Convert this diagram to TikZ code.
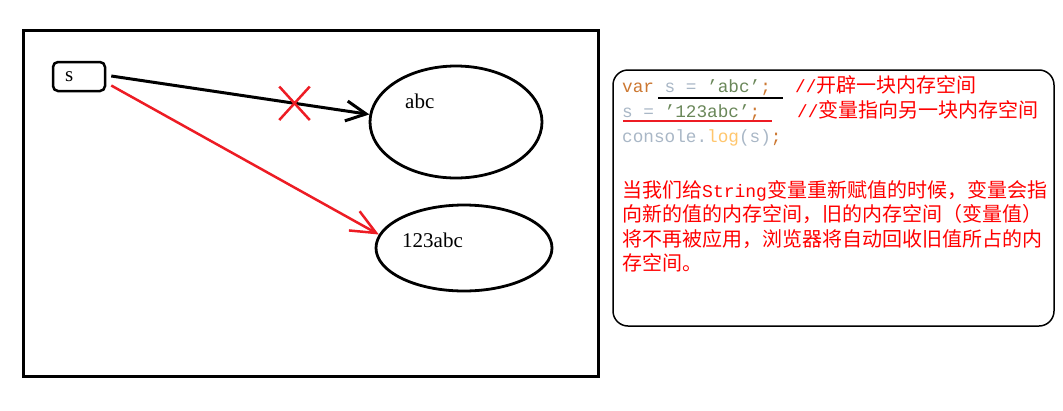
\documentclass[tikz,border=0pt]{standalone}
\usepackage{fontspec}
\setmainfont{Liberation Serif}
\newfontfamily\codefont{Liberation Mono}
\newfontfamily\cjkfont{Noto Sans CJK SC}
\usepackage{xcolor}
\definecolor{paintred}{HTML}{ED1C24}
\definecolor{notered}{HTML}{FF0000}
\definecolor{kwcolor}{HTML}{CC7832}
\definecolor{idcolor}{HTML}{A9B7C6}
\definecolor{strcolor}{HTML}{6A8759}
\definecolor{fncolor}{HTML}{FFC66D}
\usetikzlibrary{shapes.geometric, shapes.misc, arrows.meta, positioning, calc}

\begin{document}
\begin{tikzpicture}[
        x=1pt, y=-1pt,
        var_box/.style={
            rectangle,
            rounded corners=5pt,
            draw=black,
            line width=2.5pt,
            minimum width=52pt,
            minimum height=29pt,
            text width=28pt,
            inner xsep=12pt,
            align=left,
            font=\fontsize{21}{22}\selectfont
        },
        heap_ell/.style={
            ellipse,
            draw=black,
            line width=2.8pt,
            inner sep=0pt
        },
        val_text/.style={
            anchor=base west,
            inner sep=0pt,
            font=\fontsize{21}{22}\selectfont
        },
        code_line/.style={
            anchor=base west,
            inner sep=0pt,
            font=\codefont\fontsize{17.7}{20}\selectfont
        },
        note_text/.style={
            anchor=base west,
            inner sep=0pt,
            text=notered,
            font=\cjkfont\fontsize{20}{24.5}\selectfont
        },
        ref_arrow/.style={
            line width=#1,
            -{Straight Barb[length=20pt, width=20pt]}
        },
        x_mark/.style={
            cross out,
            draw=paintred,
            line width=2.5pt,
            minimum width=28pt,
            minimum height=31pt,
            inner sep=0pt
        }
    ]
    \useasboundingbox (0,0) rectangle (1063,410);

    % Memory sketch
    \draw[line width=3pt] (23,30) rectangle (598,376);
    \node[var_box] (var_s) at (79,76.5) {s};
    \node[heap_ell, minimum width=172pt, minimum height=112pt] (ell_abc) at (456,122) {};
    \node[heap_ell, minimum width=176pt, minimum height=86pt] (ell_new) at (464,248) {};
    \node[val_text] (t_abc) at (405,108) {abc};
    \node[val_text] (t_new) at (402,247) {123abc};

    % old and new references
    \draw[ref_arrow=3pt] ($(var_s.east)+(5,-0.5)$) -- node[x_mark, pos=0.71] (x_old) {} (ell_abc.175);
    \draw[ref_arrow=2.5pt, paintred, -{Straight Barb[length=25pt, width=22pt]}]
        ($(var_s.east)+(5,9)$) -- (ell_new.171);

    % Code panel
    \draw[line width=1.5pt, rounded corners=15pt] (613,70) rectangle (1054,326);
    \node[code_line] (code1) at (622,92) {\textcolor{kwcolor}{var} \textcolor{idcolor}{s =} \textcolor{strcolor}{’abc’}\textcolor{kwcolor}{;}};
    \node[code_line] (code2) at (622,117) {\textcolor{idcolor}{s =} \textcolor{strcolor}{’123abc’}\textcolor{kwcolor}{;}};
    \node[code_line] (code3) at (622,142) {\textcolor{idcolor}{console.}\textcolor{fncolor}{log}\textcolor{idcolor}{(s)}\textcolor{kwcolor}{;}};
    \node[note_text] (cmt1) at (795,92) {{\codefont\fontsize{17.7}{20}\selectfont //}开辟一块内存空间};
    \node[note_text] (cmt2) at (797,117) {{\codefont\fontsize{17.7}{20}\selectfont //}变量指向另一块内存空间};
    \draw[line width=2.5pt] (658,98) -- (783,98);
    \draw[line width=2.5pt, paintred] (623,121) -- (772,121);

    \node[note_text, anchor=north west, align=left] (note) at (622,180)
        {当我们给{\codefont\fontsize{18}{20}\selectfont String}变量重新赋值的时候，变量会指\\
         向新的值的内存空间，旧的内存空间（变量值）\\
         将不再被应用，浏览器将自动回收旧值所占的内\\
         存空间。};

\end{tikzpicture}
\end{document}
